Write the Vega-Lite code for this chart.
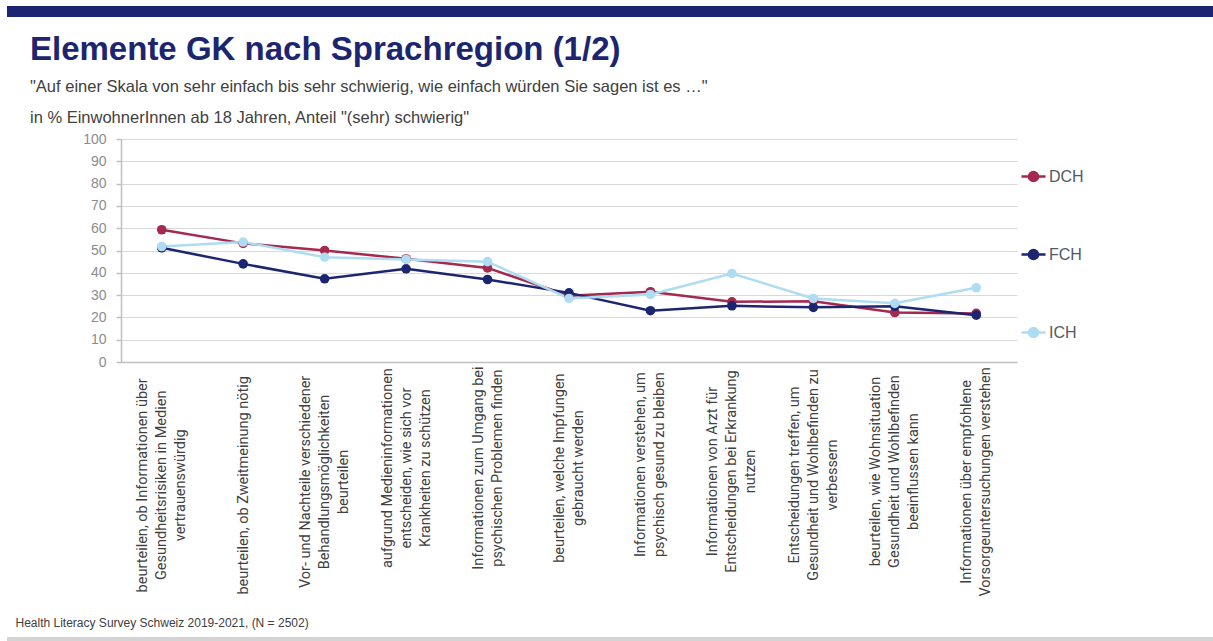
{
  "$schema": "https://vega.github.io/schema/vega-lite/v6.json",
  "width": 896,
  "height": 223,
  "autosize": "none",
  "padding": {"left": 121, "top": 139, "right": 196, "bottom": 279},
  "background": "white",
  "config": {"view": {"stroke": null}},
  "title": {
    "text": "Elemente GK nach Sprachregion (1/2)",
    "subtitle": ["\"Auf einer Skala von sehr einfach bis sehr schwierig, wie einfach würden Sie sagen ist es …\"", "in % EinwohnerInnen ab 18 Jahren, Anteil \"(sehr) schwierig\""],
    "anchor": "start",
    "frame": "group",
    "dx": -91,
    "offset": -120,
    "font": "Liberation Sans",
    "fontSize": 33,
    "fontWeight": "bold",
    "color": "#1B2570",
    "subtitleFont": "Liberation Sans",
    "subtitleFontSize": 16.5,
    "subtitleColor": "#404040",
    "subtitleLineHeight": 31,
    "subtitlePadding": 12
  },
  "data": {
    "values": [
      {"item": "beurteilen, ob Informationen über\nGesundheitsrisiken in Medien\nvertrauenswürdig", "region": "DCH", "value": 59.3},
      {"item": "beurteilen, ob Informationen über\nGesundheitsrisiken in Medien\nvertrauenswürdig", "region": "FCH", "value": 51.2},
      {"item": "beurteilen, ob Informationen über\nGesundheitsrisiken in Medien\nvertrauenswürdig", "region": "ICH", "value": 51.8},
      {"item": "beurteilen, ob Zweitmeinung nötig", "region": "DCH", "value": 53.2},
      {"item": "beurteilen, ob Zweitmeinung nötig", "region": "FCH", "value": 44.0},
      {"item": "beurteilen, ob Zweitmeinung nötig", "region": "ICH", "value": 53.8},
      {"item": "Vor- und Nachteile verschiedener\nBehandlungsmöglichkeiten\nbeurteilen", "region": "DCH", "value": 50.0},
      {"item": "Vor- und Nachteile verschiedener\nBehandlungsmöglichkeiten\nbeurteilen", "region": "FCH", "value": 37.3},
      {"item": "Vor- und Nachteile verschiedener\nBehandlungsmöglichkeiten\nbeurteilen", "region": "ICH", "value": 47.0},
      {"item": "aufgrund Medieninformationen\nentscheiden, wie sich vor\nKrankheiten zu schützen", "region": "DCH", "value": 46.3},
      {"item": "aufgrund Medieninformationen\nentscheiden, wie sich vor\nKrankheiten zu schützen", "region": "FCH", "value": 41.8},
      {"item": "aufgrund Medieninformationen\nentscheiden, wie sich vor\nKrankheiten zu schützen", "region": "ICH", "value": 46.0},
      {"item": "Informationen zum Umgang bei\npsychischen Problemen finden", "region": "DCH", "value": 42.2},
      {"item": "Informationen zum Umgang bei\npsychischen Problemen finden", "region": "FCH", "value": 37.0},
      {"item": "Informationen zum Umgang bei\npsychischen Problemen finden", "region": "ICH", "value": 45.0},
      {"item": "beurteilen, welche Impfungen\ngebraucht werden", "region": "DCH", "value": 29.7},
      {"item": "beurteilen, welche Impfungen\ngebraucht werden", "region": "FCH", "value": 31.0},
      {"item": "beurteilen, welche Impfungen\ngebraucht werden", "region": "ICH", "value": 28.5},
      {"item": "Informationen verstehen, um\npsychisch gesund zu bleiben", "region": "DCH", "value": 31.5},
      {"item": "Informationen verstehen, um\npsychisch gesund zu bleiben", "region": "FCH", "value": 23.0},
      {"item": "Informationen verstehen, um\npsychisch gesund zu bleiben", "region": "ICH", "value": 30.3},
      {"item": "Informationen von Arzt für\nEntscheidungen bei Erkrankung\nnutzen", "region": "DCH", "value": 27.0},
      {"item": "Informationen von Arzt für\nEntscheidungen bei Erkrankung\nnutzen", "region": "FCH", "value": 25.2},
      {"item": "Informationen von Arzt für\nEntscheidungen bei Erkrankung\nnutzen", "region": "ICH", "value": 39.7},
      {"item": "Entscheidungen treffen, um\nGesundheit und Wohlbefinden zu\nverbessern", "region": "DCH", "value": 27.2},
      {"item": "Entscheidungen treffen, um\nGesundheit und Wohlbefinden zu\nverbessern", "region": "FCH", "value": 24.5},
      {"item": "Entscheidungen treffen, um\nGesundheit und Wohlbefinden zu\nverbessern", "region": "ICH", "value": 28.5},
      {"item": "beurteilen, wie Wohnsituation\nGesundheit und Wohlbefinden\nbeeinflussen kann", "region": "DCH", "value": 22.2},
      {"item": "beurteilen, wie Wohnsituation\nGesundheit und Wohlbefinden\nbeeinflussen kann", "region": "FCH", "value": 25.0},
      {"item": "beurteilen, wie Wohnsituation\nGesundheit und Wohlbefinden\nbeeinflussen kann", "region": "ICH", "value": 26.3},
      {"item": "Informationen über empfohlene\nVorsorgeuntersuchungen verstehen", "region": "DCH", "value": 21.8},
      {"item": "Informationen über empfohlene\nVorsorgeuntersuchungen verstehen", "region": "FCH", "value": 21.0},
      {"item": "Informationen über empfohlene\nVorsorgeuntersuchungen verstehen", "region": "ICH", "value": 33.3}
    ]
  },
  "layer": [
    {
      "mark": {"type": "line", "strokeWidth": 2.5, "point": {"filled": true, "size": 92, "opacity": 1}},
      "encoding": {
        "x": {
          "field": "item",
          "type": "nominal",
          "sort": null,
          "scale": {"type": "point", "padding": 0.5},
          "axis": {
            "title": "Health Literacy Survey Schweiz 2019-2021, (N = 2502)",
            "titleFont": "Liberation Sans",
            "titleFontSize": 12,
            "titleFontWeight": "normal",
            "titleColor": "#404040",
            "titleX": -106,
            "titleY": 260,
            "titleAlign": "left",
            "titleBaseline": "middle",
            "titleAngle": 0,
            "labelExpr": "split(datum.label, '\\n')",
            "labelAngle": -90,
            "labelAlign": "center",
            "labelBaseline": "middle",
            "labelFont": "Roboto",
            "labelFontSize": 14.5,
            "labelLineHeight": 19,
            "labelColor": "#404040",
            "labelPadding": {"expr": "9 + 3.45 * max(length(split(datum.value, '\\n')[0]), length(split(datum.value, '\\n')[1] || ''), length(split(datum.value, '\\n')[2] || ''))"},
            "labelOffset": {"expr": "-(length(split(datum.value, '\\n')) - 1) * 9.5"},
            "labelLimit": 400,
            "ticks": false,
            "domain": true,
            "domainColor": "#BFBFBF",
            "domainWidth": 1.5,
            "grid": false
          }
        },
        "y": {
          "field": "value",
          "type": "quantitative",
          "scale": {"domain": [0, 100], "nice": false},
          "axis": {
            "title": null,
            "values": [0, 10, 20, 30, 40, 50, 60, 70, 80, 90, 100],
            "labelFont": "Liberation Sans",
            "labelFontSize": 14,
            "labelColor": "#8C8C8C",
            "labelPadding": 10,
            "tickSize": 5,
            "tickColor": "#BFBFBF",
            "tickWidth": 1.5,
            "domain": true,
            "domainColor": "#BFBFBF",
            "domainWidth": 1.5,
            "grid": true,
            "gridColor": "#D9D9D9",
            "gridWidth": 1.2
          }
        },
        "color": {
          "field": "region",
          "type": "nominal",
          "scale": {"domain": ["DCH", "FCH", "ICH"], "range": ["#A3294F", "#1B2570", "#AEDCF2"]},
          "legend": {
            "title": null,
            "orient": "none",
            "legendX": 899,
            "legendY": 24,
            "direction": "vertical",
            "padding": 0,
            "rowPadding": 54,
            "symbolType": "M-1,0L1,0M0.38,0A0.38,0.38,0,1,1,-0.38,0A0.38,0.38,0,1,1,0.38,0Z",
            "symbolSize": 576,
            "symbolStrokeWidth": 2.5,
            "labelFont": "Liberation Sans",
            "labelFontSize": 16,
            "labelColor": "#505A64",
            "labelOffset": 2,
            "encode": {
              "symbols": {
                "update": {
                  "fill": {"scale": "color", "field": "value"},
                  "stroke": {"scale": "color", "field": "value"},
                  "opacity": {"value": 1}
                }
              }
            }
          }
        }
      }
    },
    {
      "data": {"values": [{"v": 0, "w": 0}, {"v": 1, "w": 1}]},
      "mark": {"type": "point", "opacity": 0},
      "encoding": {
        "fill": {
          "field": "v",
          "type": "quantitative",
          "scale": {"range": ["#1B2570", "#1B2570"]},
          "legend": {
            "type": "gradient",
            "title": null,
            "orient": "none",
            "legendX": -114,
            "legendY": -133,
            "direction": "horizontal",
            "gradientLength": 1206,
            "gradientThickness": 11,
            "gradientStrokeWidth": 0,
            "labelExpr": "''",
            "labelOpacity": 0,
            "padding": 0
          }
        },
        "stroke": {
          "field": "w",
          "type": "quantitative",
          "scale": {"range": ["#D4D4D4", "#D4D4D4"]},
          "legend": {
            "type": "gradient",
            "title": null,
            "orient": "none",
            "legendX": -114,
            "legendY": 498,
            "direction": "horizontal",
            "gradientLength": 1206,
            "gradientThickness": 4,
            "gradientStrokeWidth": 0,
            "labelExpr": "''",
            "labelOpacity": 0,
            "padding": 0
          }
        }
      }
    }
  ]
}
